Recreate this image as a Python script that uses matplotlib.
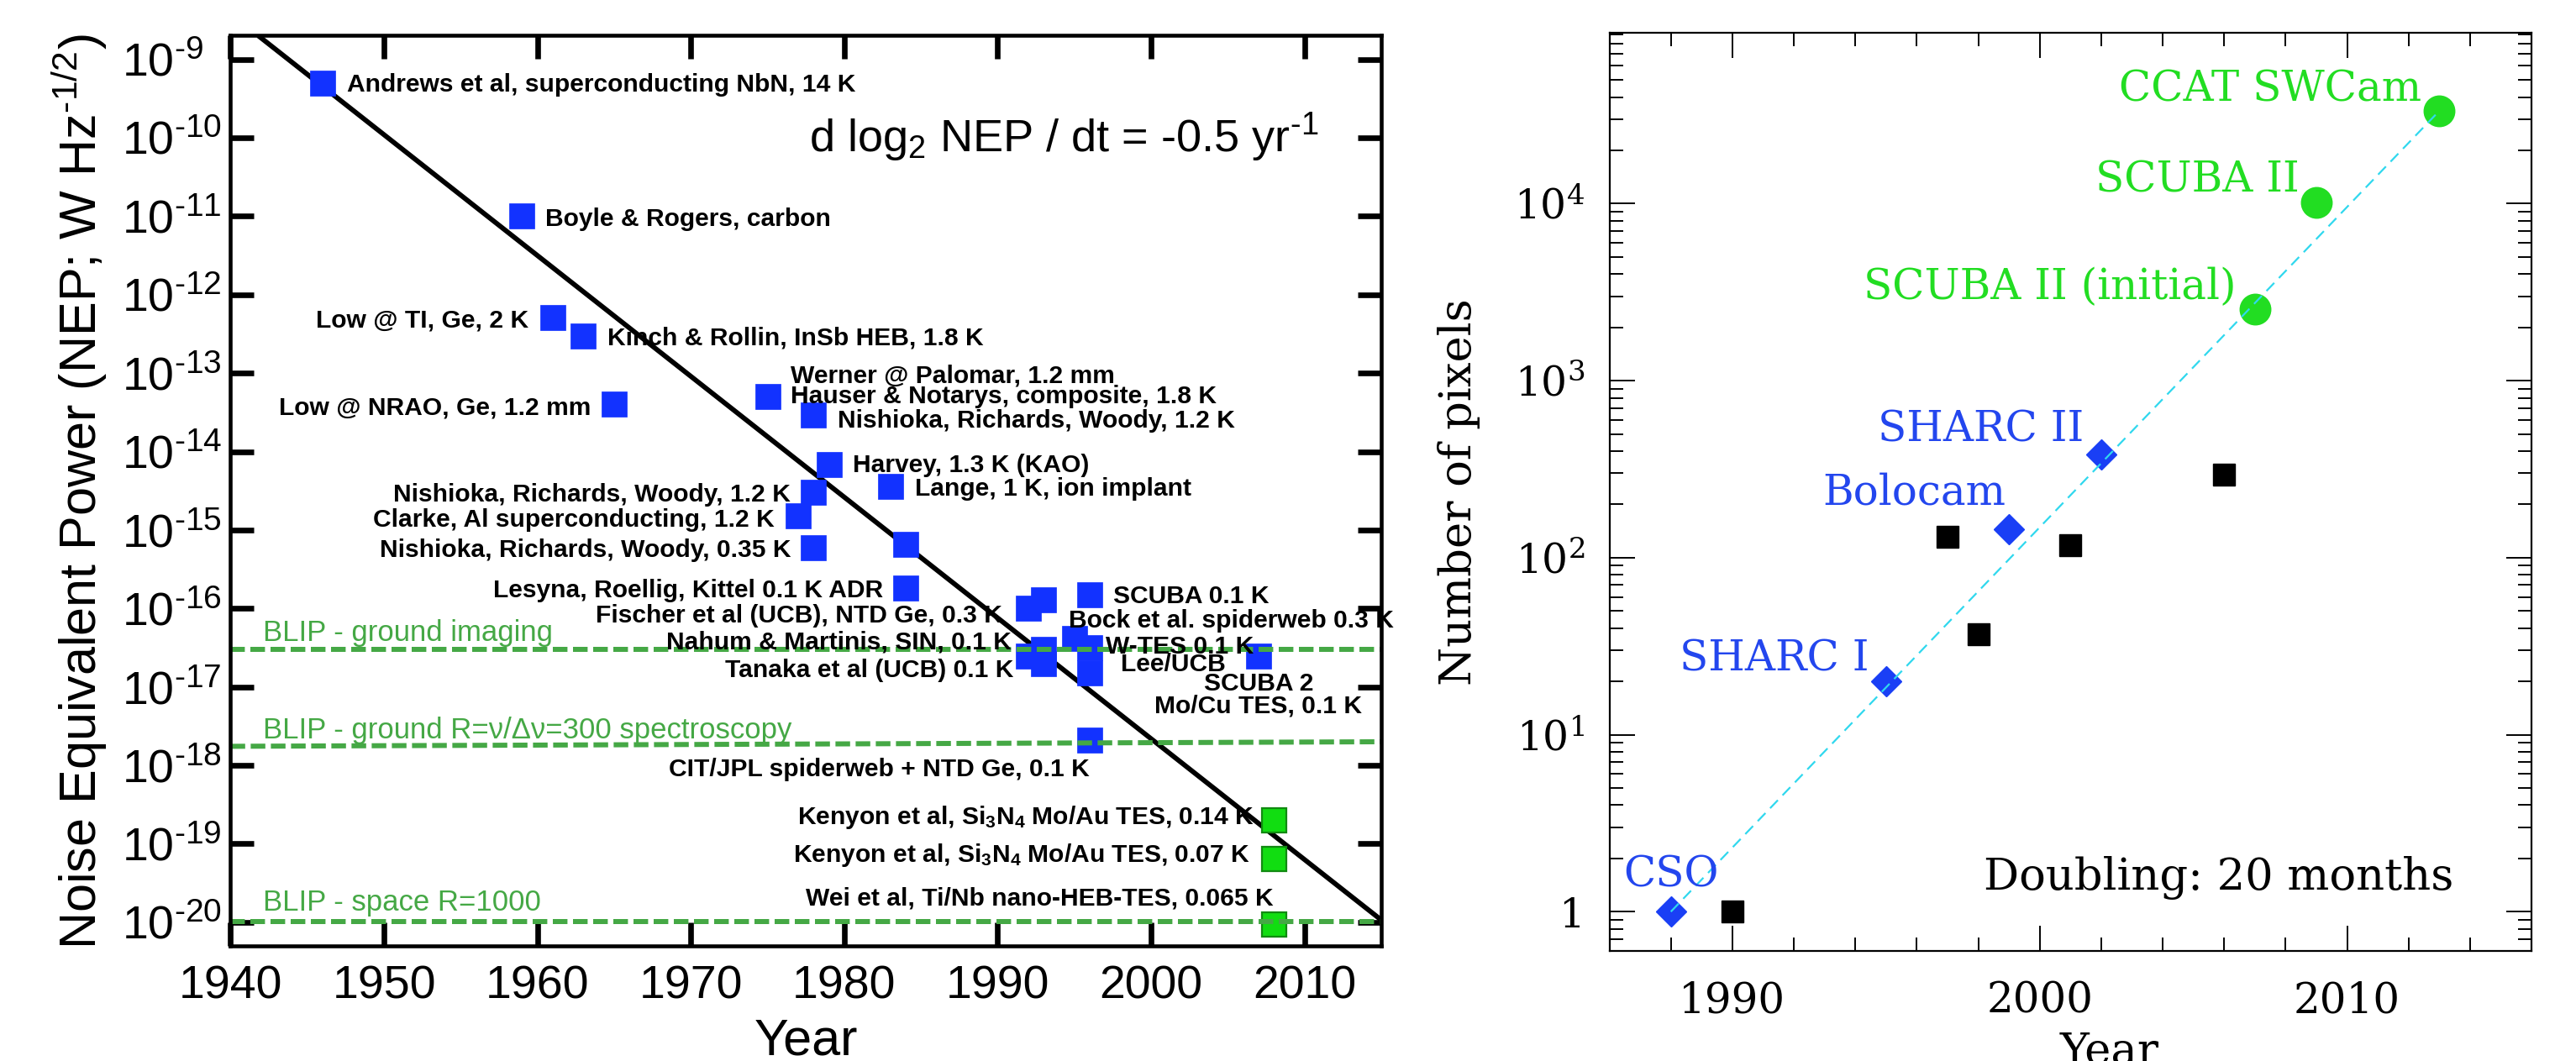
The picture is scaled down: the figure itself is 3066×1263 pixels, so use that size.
import numpy as np
import matplotlib
matplotlib.use("Agg")
import matplotlib.pyplot as plt
from matplotlib.ticker import MultipleLocator, LogLocator, NullFormatter, NullLocator

plt.rcParams['font.family'] = ['Liberation Sans', 'DejaVu Sans']

# ============ data: left panel (NEP vs year) ============
nep_years = [1946, 1959, 1961, 1963, 1965, 1975, 1978, 1979, 1983, 1978, 1977, 1978, 1984, 1984,
             1992, 1993, 1996, 1992, 1993, 1993, 1995, 1996, 1996, 2007, 1996]
nep_values = [4.9e-10, 1.0e-11, 5.1e-13, 3.0e-13, 4.0e-14, 5.0e-14, 2.9e-14, 6.8e-15, 3.6e-15,
              3.0e-15, 1.5e-15, 6.0e-16, 6.6e-16, 1.8e-16, 1.0e-16, 1.3e-16, 1.5e-16, 2.5e-17,
              3.0e-17, 2.0e-17, 4.1e-17, 3.2e-17, 1.5e-17, 2.5e-17, 2.1e-18]
tes_years = [2008, 2008, 2008]
tes_values = [2.0e-19, 6.5e-20, 9.5e-21]

# (point index, text)
nep_labels = [
    (0, "Andrews et al, superconducting NbN, 14 K"),
    (1, "Boyle & Rogers, carbon"),
    (2, "Low @ TI, Ge, 2 K"),
    (3, "Kinch & Rollin, InSb HEB, 1.8 K"),
    (4, "Low @ NRAO, Ge, 1.2 mm"),
    (5, "Werner @ Palomar, 1.2 mm"),
    (5, "Hauser & Notarys, composite, 1.8 K"),
    (6, "Nishioka, Richards, Woody, 1.2 K"),
    (7, "Harvey, 1.3 K (KAO)"),
    (8, "Lange, 1 K, ion implant"),
    (9, "Nishioka, Richards, Woody, 1.2 K"),
    (10, "Clarke, Al superconducting, 1.2 K"),
    (11, "Nishioka, Richards, Woody, 0.35 K"),
    (13, "Lesyna, Roellig, Kittel 0.1 K ADR"),
    (14, "Fischer et al (UCB), NTD Ge, 0.3 K"),
    (16, "SCUBA 0.1 K"),
    (17, "Nahum & Martinis, SIN, 0.1 K"),
    (19, "Tanaka et al (UCB) 0.1 K"),
    (20, "Bock et al. spiderweb 0.3 K"),
    (21, "W-TES 0.1 K"),
    (22, "Lee/UCB"),
    (23, "SCUBA 2"),
    (23, "Mo/Cu TES, 0.1 K"),
    (24, "CIT/JPL spiderweb + NTD Ge, 0.1 K"),
]
tes_labels = [
    (0, r"Kenyon et al, Si$\mathregular{_3}$N$\mathregular{_4}$ Mo/Au TES, 0.14 K"),
    (1, r"Kenyon et al, Si$\mathregular{_3}$N$\mathregular{_4}$ Mo/Au TES, 0.07 K"),
    (2, "Wei et al, Ti/Nb nano-HEB-TES, 0.065 K"),
]

trend_years = [1941.8, 2015]
trend_nep = [2e-9, 1.07e-20]

blip_names = ["BLIP - ground imaging",
              "BLIP - ground R=\u03bd/\u0394\u03bd=300 spectroscopy",
              "BLIP - space R=1000"]
blip_ends = [(3.0e-17, 3.0e-17), (1.75e-18, 2.0e-18), (1.02e-20, 1.02e-20)]

nep_xticks = [1940, 1950, 1960, 1970, 1980, 1990, 2000, 2010]
nep_exponents = list(range(-9, -21, -1))

# ============ data: right panel (pixel count vs year) ============
bolo_years = [1988, 1995, 1999, 2002]
bolo_pixels = [1, 20, 144, 384]
bolo_names = ["CSO", "SHARC I", "Bolocam", "SHARC II"]
other_years = [1990, 1997, 1998, 2001, 2006]
other_pixels = [1, 131, 37, 117, 295]
tes_cam_years = [2007, 2009, 2013]
tes_cam_pixels = [2540, 10200, 33400]
tes_cam_names = ["SCUBA II (initial)", "SCUBA II", "CCAT SWCam"]
fit_years = [1988, 2013]
fit_pixels = [1, 33400]

pix_xticks = [1990, 2000, 2010]
pix_exponents = [0, 1, 2, 3, 4]

# ============ layout (pixels in the 3066x1263 canvas) ============
W, H = 3066, 1263
PX = 72 / 100  # pixel -> point at dpi 100
HY = '\u2010'  # short hyphen for superscripts, like the original

# label offsets from the marker centre in pixels (dx, dy up) and alignment
nep_label_layout = [
    (29, -10, 'left'), (28, -12, 'left'), (-28.5, -11.7, 'right'), (29, -11, 'left'),
    (-28, -12, 'right'), (27.5, 17, 'left'), (27.5, -8, 'left'), (28.6, -14.6, 'left'),
    (28, -8.5, 'left'), (29, -11, 'left'), (-27, -11, 'right'), (-28, -13, 'right'),
    (-27, -11, 'right'), (-27, -10.6, 'right'), (-31, -16.5, 'right'), (28.4, -10, 'left'),
    (-20, 8, 'right'), (-36, -16, 'right'), (-7, 13, 'left'), (19.4, -7, 'left'),
    (37, 2, 'left'), (0, -41, 'center'), (0, -67.6, 'center'), (0, -43, 'right'),
]
tes_label_layout = [(-23.6, -4.4, 'right'), (-28, -4, 'right'), (-1, 22.4, 'right')]
blip_label_dy = [10, 9, 12.6]

bolo_label_layout = [(0, 30, 'center'), (-20.7, 13, 'right'), (-4, 29.6, 'right'), (-20.7, 14.7, 'right')]
tes_cam_label_layout = [(-22.6, 12, 'right'), (-20, 12.5, 'right'), (-21.4, 12, 'right')]

blue = '#1232FF'
blip_green = '#45A845'

fig = plt.figure(figsize=(W / 100, H / 100), dpi=100)

# ---------------- left panel ----------------
ax = fig.add_axes([274.4 / W, (H - 1126) / H, 1369.6 / W, 1083.6 / H])
ax.set_yscale('log')
ax.set_xlim(1940, 2015)
ax.set_ylim(5e-21, 2e-9)

ax.plot(trend_years, trend_nep, color='black', lw=4.2, zorder=1.5, solid_capstyle='butt')
ax.plot(nep_years, nep_values, 's', ms=30 * PX, color=blue, mec=blue, mew=0.5, zorder=2)
ax.plot(tes_years, tes_values, 's', ms=29 * PX, color='#11DD11', mec='#118A11', mew=1.6, zorder=2)

for (lo, hi), name, dy in zip(blip_ends, blip_names, blip_label_dy):
    ax.plot([1940, 2015], [lo, hi], color=blip_green, lw=6 * PX, dashes=(2.9, 1.1), zorder=2.5)
    ax.annotate(name, (1942.1, lo), xytext=(0, dy), textcoords='offset pixels',
                ha='left', va='baseline', fontsize=25, color=blip_green, zorder=3)

for (i, txt), (dx, dy, ha) in zip(nep_labels, nep_label_layout):
    ax.annotate(txt, (nep_years[i], nep_values[i]), xytext=(dx, dy), textcoords='offset pixels',
                ha=ha, va='baseline', fontsize=21.6, fontweight='bold', zorder=4,
                annotation_clip=False)
for (i, txt), (dx, dy, ha) in zip(tes_labels, tes_label_layout):
    ax.annotate(txt, (tes_years[i], tes_values[i]), xytext=(dx, dy), textcoords='offset pixels',
                ha=ha, va='baseline', fontsize=21.6, fontweight='bold', zorder=4)

ax.text(0.503, 0.872, r"d log$\mathregular{_2}$ NEP / dt = -0.5 yr$\mathregular{^{%s1}}$" % HY,
        transform=ax.transAxes, fontsize=39, va='baseline', ha='left')

ax.set_xticks(nep_xticks, labels=[str(t) for t in nep_xticks], fontsize=40)
ax.set_yticks([10.0 ** e for e in nep_exponents],
              labels=[r'$\mathregular{10^{%s%d}}$' % (HY, -e) for e in nep_exponents],
              fontsize=40, ha='left')
ax.yaxis.set_minor_locator(NullLocator())
ax.tick_params(which='major', direction='in', length=20, width=4.8, top=True, right=True)
ax.tick_params(axis='x', pad=16)
ax.tick_params(axis='y', pad=93)
for sp in ax.spines.values():
    sp.set_linewidth(3.3)

fig.text(95 / W, 1 - 585 / H, r"Noise Equivalent Power (NEP; W Hz$\mathregular{^{%s1/2}}$)" % HY,
         rotation=90, ha='center', va='center', fontsize=44)
fig.text(959 / W, (H - 1255) / H, "Year", ha='center', va='baseline', fontsize=44)

# ---------------- right panel ----------------
serif = 'DejaVu Serif'
rblue = '#2346EE'
rgreen = '#22DD22'

ax2 = fig.add_axes([1915.5 / W, (H - 1132) / H, 1097.5 / W, 1092.7 / H])
ax2.set_yscale('log')
ax2.set_xlim(1986, 2016)
ax2.set_ylim(0.6, 9.2e4)

ax2.plot(fit_years, fit_pixels, color='#30D8EE', lw=1.6, dashes=(6, 3.6), zorder=3)
ax2.plot(bolo_years, bolo_pixels, 'D', ms=36 / 1.414 * PX, color='#1A3FF5', mec='#1A3FF5', zorder=2)
ax2.plot(other_years, other_pixels, 's', ms=27 * PX, color='black', zorder=2)
ax2.plot(tes_cam_years, tes_cam_pixels, 'o', ms=36.5 * PX, color=rgreen, mec=rgreen, zorder=2)

for x, y, name, (dx, dy, ha) in zip(bolo_years, bolo_pixels, bolo_names, bolo_label_layout):
    ax2.annotate(name, (x, y), xytext=(dx, dy), textcoords='offset pixels', ha=ha, va='baseline',
                 fontsize=36, color=rblue, fontfamily=serif)
for x, y, name, (dx, dy, ha) in zip(tes_cam_years, tes_cam_pixels, tes_cam_names, tes_cam_label_layout):
    ax2.annotate(name, (x, y), xytext=(dx, dy), textcoords='offset pixels', ha=ha, va='baseline',
                 fontsize=36, color=rgreen, fontfamily=serif)

ax2.text(0.4056, 0.0666, "Doubling: 20 months", transform=ax2.transAxes, ha='left', va='baseline',
         fontsize=38, fontfamily=serif)

ax2.set_xticks(pix_xticks, labels=[str(t) for t in pix_xticks], fontsize=36, fontfamily=serif)
ax2.xaxis.set_minor_locator(MultipleLocator(2))
ax2.set_yticks([10.0 ** e for e in pix_exponents],
               labels=['1' if e == 0 else r'$\mathregular{10^{%d}}$' % e for e in pix_exponents],
               fontsize=35, fontfamily=serif)
ax2.yaxis.set_minor_locator(LogLocator(base=10, subs=range(2, 10), numticks=20))
ax2.yaxis.set_minor_formatter(NullFormatter())
ax2.tick_params(which='major', direction='in', length=21.5, width=1.4, top=True, right=True)
ax2.tick_params(which='minor', direction='in', length=11.5, width=1.4, top=True, right=True)
ax2.tick_params(axis='x', pad=25)
ax2.tick_params(axis='y', pad=21)
for sp in ax2.spines.values():
    sp.set_linewidth(1.6)

fig.text(1737 / W, 1 - 586 / H, "Number of pixels", rotation=90, ha='center', va='center',
         fontsize=38, fontfamily=serif)
fig.text(2511 / W, -3.5 / H, "Year", ha='center', va='baseline', fontsize=38, fontfamily=serif)

fig.savefig('out.png', dpi=100)
